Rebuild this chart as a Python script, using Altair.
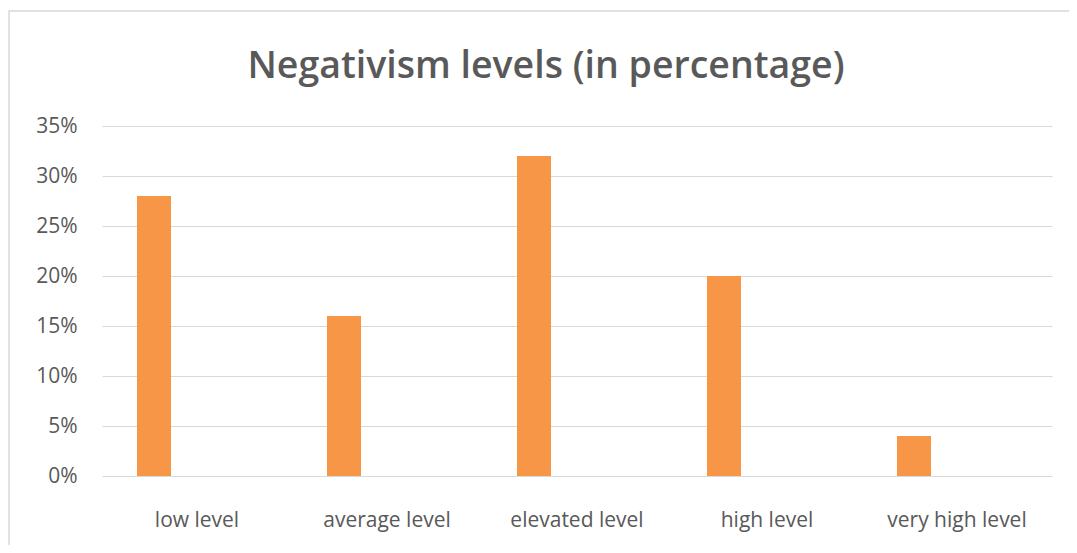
import altair as alt
import pandas as pd

categories = ["low level", "average level", "elevated level", "high level", "very high level"]
values = [0.28, 0.16, 0.32, 0.20, 0.04]
y_ticks = [0, 0.05, 0.10, 0.15, 0.20, 0.25, 0.30, 0.35]
title_text = "Negativism levels (in percentage)"

df = pd.DataFrame({"level": categories, "pct": values})

FONT = "Open Sans"
TEXT = "#595959"

x_enc = alt.X("level:N", sort=categories, title=None,
              scale=alt.Scale(paddingInner=0, paddingOuter=0),
              axis=alt.Axis(labelAngle=0, ticks=False, domain=False, labelPadding=33,
                            labelFontSize=21, labelColor=TEXT, labelFont=FONT, grid=False))
y_enc = alt.Y("pct:Q", title=None,
              scale=alt.Scale(domain=[0, 0.35], nice=False),
              axis=alt.Axis(values=y_ticks, format=".0%", ticks=False, domain=False,
                            labelPadding=25, labelFontSize=21, labelColor=TEXT, labelFont=FONT,
                            gridColor="#d9d9d9", gridWidth=1.2))

bars = alt.Chart(df).mark_bar(width=34, xOffset=-43, color="#F79646").encode(x=x_enc, y=y_enc)

frame = alt.Chart(pd.DataFrame({"a": [0]})).mark_rect(
    fill=None, stroke="#d9d9d9", strokeWidth=1.5, clip=False
).encode(x=alt.value(-93), x2=alt.value(1100), y=alt.value(-115), y2=alt.value(700))

title = alt.Chart(pd.DataFrame({"t": [title_text]})).mark_text(
    font=FONT, fontSize=37.5, fontWeight=600, color=TEXT, align="center", baseline="alphabetic"
).encode(text="t:N", x=alt.value(444), y=alt.value(-48))

chart = alt.layer(frame, bars, title).properties(
    width=950, height=350,
    background="white",
    autosize=alt.AutoSizeParams(type="none"),
    padding={"left": 94, "top": 118, "right": 17, "bottom": 69},
).configure_view(strokeWidth=0, stroke="transparent")

chart.save("out.html", embed_options={"renderer": "svg", "actions": False})
